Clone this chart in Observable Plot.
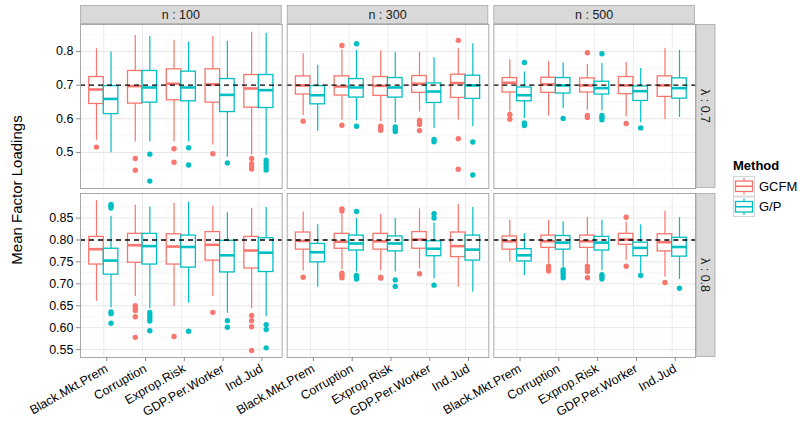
<!DOCTYPE html>
<html><head><meta charset="utf-8">
<script src="https://cdn.jsdelivr.net/npm/d3@7"></script>
<script src="https://cdn.jsdelivr.net/npm/@observablehq/plot@0.6"></script>
<style>
body{margin:0;background:#fff;font-family:"Liberation Sans",Arial,Helvetica,sans-serif;}
#wrap{position:relative;width:800px;height:427px;overflow:hidden;background:#fff;}
#wrap > svg{position:absolute;left:0;}
</style></head>
<body><div id="wrap"></div>
<script>
// ---------- data ----------
const variables = ["Black.Mkt.Prem","Corruption","Exprop.Risk","GDP.Per.Worker","Ind.Jud"];
const methods = ["GCFM","G/P"];
const methodColors = ["#F8766D","#00BFC4"];
const sampleSizes = [100,300,500];
const lambdas = [0.7,0.8];
const yTicksTop = [0.5,0.6,0.7,0.8];
const yMinorTop = [0.45,0.55,0.65,0.75,0.85];
const yTicksBottom = [0.55,0.60,0.65,0.70,0.75,0.80,0.85];
const yMinorBottom = [0.575,0.625,0.675,0.725,0.775,0.825,0.875];

// order: lambda (0.7, 0.8) > n (100, 300, 500) > variable > method (GCFM, G/P)
const whiskerLow = [
  .536,.499, .531,.531, .531,.531, .522,.486, .492,.492,
  .610,.563, .596,.594, .591,.588, .620,.571, .596,.576,
  .620,.601, .608,.630, .625,.623, .605,.588, .598,.604,
  .660,.645, .671,.643, .648,.656, .671,.633, .643,.625,
  .729,.692, .732,.727, .730,.727, .734,.711, .692,.681,
  .750,.719, .746,.738, .746,.730, .753,.724, .715,.710
];
const q1 = [
  .644,.614, .645,.648, .655,.652, .648,.620, .633,.632,
  .672,.643, .669,.663, .668,.663, .677,.647, .662,.659,
  .678,.652, .677,.675, .678,.672, .673,.653, .665,.660,
  .744,.721, .748,.744, .744,.737, .753,.726, .735,.727,
  .778,.749, .780,.776, .778,.774, .780,.763, .761,.753,
  .778,.751, .782,.778, .782,.776, .789,.763, .774,.762
];
const median = [
  .687,.659, .697,.693, .704,.693, .702,.671, .690,.685,
  .699,.670, .696,.693, .698,.693, .704,.681, .706,.699,
  .707,.670, .702,.699, .699,.691, .699,.682, .699,.691,
  .779,.753, .788,.786, .785,.784, .789,.765, .776,.771,
  .798,.772, .796,.792, .797,.792, .801,.780, .786,.778,
  .797,.765, .797,.794, .797,.794, .801,.782, .795,.784
];
const q3 = [
  .724,.697, .742,.742, .747,.740, .747,.718, .730,.730,
  .726,.697, .726,.718, .724,.721, .727,.705, .731,.728,
  .721,.693, .722,.721, .720,.710, .724,.696, .726,.720,
  .807,.780, .814,.814, .813,.810, .818,.798, .807,.804,
  .817,.791, .814,.810, .814,.808, .818,.797, .817,.810,
  .808,.779, .810,.809, .810,.807, .814,.794, .813,.805
];
const whiskerHigh = [
  .808,.798, .847,.844, .833,.828, .844,.830, .857,.854,
  .793,.759, .805,.803, .801,.796, .798,.781, .808,.823,
  .775,.739, .770,.766, .761,.764, .768,.749, .808,.803,
  .890,.854, .879,.875, .884,.886, .877,.862, .872,.874,
  .864,.835, .858,.849, .858,.849, .871,.839, .881,.874,
  .845,.814, .845,.841, .851,.845, .841,.835, .866,.851
];
const outliers = [
  [.516],[], [.482,.447],[.495,.415], [.511,.471],[.514,.463], [.496],[.469], [.482,.467,.457,.451],[.477,.467,.457,.448],
  [.593],[], [.818,.581],[.823,.578], [.578,.572,.566],[.576,.569,.562], [.596,.589,.583,.565],[.539,.532], [.833,.541,.450],[.531,.433],
  [.613,.599],[.767,.588,.580], [],[.601], [.796,.610,.604],[.793,.610,.604,.597], [.586],[.573], [],[],
  [],[.881,.877,.873,.636,.632,.610], [.650,.644,.639,.625,.578],[.635,.628,.622,.615,.593], [.580],[.592], [.635],[.616,.601], [.628,.616,.602,.548],[.607,.596,.554],
  [.715],[], [.871,.866,.724,.719,.714],[.865,.719,.716,.711], [.715,.713],[.709,.694], [.723],[.860,.850,.697], [],[],
  [],[], [.740,.734,.729],[.732,.727,.721,.714], [.740,.734,.728,.714],[.721,.716,.711], [.852,.740],[.719], [.703],[.690]
];

// ---------- table built from the arrays ----------
const rows = [];
{
  let k = 0;
  for (const lambda of lambdas) for (const n of sampleSizes) for (const variable of variables) for (const method of methods) {
    rows.push({lambda, n, variable, method, lo: whiskerLow[k], q1: q1[k], med: median[k], q3: q3[k], hi: whiskerHigh[k], out: outliers[k]});
    k++;
  }
}

// ---------- layout ----------
const W = 800, ML = 80, MR = 105, GAP = 5;
const FXPAD = 3 * GAP / (800 - ML - MR + GAP);
const fxBand = d3.scaleBand().domain(sampleSizes).range([ML, W - MR]).paddingInner(FXPAD).paddingOuter(0);
const unit = fxBand.bandwidth() / 5.2;
const FONT = "'Liberation Sans', Arial, Helvetica, sans-serif";
const wrap = document.getElementById("wrap");

function makeRow(lambda, {top, height, marginTop, marginBottom, yDomain, ticks, minor, fmt, xAxis}) {
  const data = rows.filter(d => d.lambda === lambda);
  const marks = [
    Plot.gridY(minor, {stroke: "#f3f3f3", strokeOpacity: 1, strokeWidth: 0.7}),
    Plot.gridY(ticks, {stroke: "#e6e6e6", strokeOpacity: 1, strokeWidth: 1}),
    Plot.gridX(variables, {stroke: "#ececec", strokeOpacity: 1, strokeWidth: 1}),
  ];
  methods.forEach((m, i) => {
    const sub = data.filter(d => d.method === m);
    const outs = sub.flatMap(d => d.out.map(v => ({n: d.n, variable: d.variable, value: v})));
    const off = (i === 0 ? -1 : 1) * unit * 0.1875;
    const inL = i === 0 ? unit * 0.125 : unit * 0.5;
    const inR = i === 0 ? unit * 0.5 : unit * 0.125;
    const c = methodColors[i];
    marks.push(
      Plot.ruleX(sub, {fx: "n", x: "variable", y1: "lo", y2: "hi", dx: off, stroke: c, strokeWidth: 1.2}),
      Plot.barY(sub, {fx: "n", x: "variable", y1: "q1", y2: "q3", insetLeft: inL, insetRight: inR, fill: "white", stroke: c, strokeWidth: 1.3}),
      Plot.tickY(sub, {fx: "n", x: "variable", y: "med", insetLeft: inL, insetRight: inR, stroke: c, strokeWidth: 2.6}),
      Plot.dot(outs, {fx: "n", x: "variable", y: "value", dx: off, r: 2.7, fill: c, stroke: "none"})
    );
  });
  marks.push(
    Plot.ruleY([lambda], {stroke: "black", strokeDasharray: "5,4", strokeWidth: 1.3}),
    Plot.frame({stroke: "#a8a8a8", strokeWidth: 1}),
    Plot.axisY(ticks, {tickFormat: d3.format(fmt), tickSize: 4, tickPadding: 3, fontSize: 12.5, stroke: "#8c8c8c", fill: "black", label: null})
  );
  if (xAxis) marks.push(Plot.axisX({tickRotate: -30, tickSize: 4, tickPadding: 6, fontSize: 12.5, dx: 3, stroke: "#8c8c8c", fill: "black", label: null}));
  const chart = Plot.plot({
    width: W, height, marginTop, marginBottom, marginLeft: ML, marginRight: MR,
    style: {fontFamily: FONT, fontSize: "12.5px", background: "white", overflow: "visible"},
    fx: {domain: sampleSizes, paddingInner: FXPAD, paddingOuter: 0, round: false, axis: null, label: null},
    x: {domain: variables, paddingInner: 0, paddingOuter: 0.1, round: false, axis: xAxis ? undefined : null, label: null},
    y: {domain: yDomain, label: null},
    marks
  });
  chart.style.top = top + "px";
  wrap.appendChild(chart);

  // facet strips (decoration)
  const svg = d3.select(chart);
  const g = svg.append("g").attr("font-family", FONT).attr("font-size", "12.5px");
  const panelBottom = height - marginBottom;
  if (!xAxis) {
    for (const n of sampleSizes) {
      g.append("rect").attr("x", fxBand(n) + 0.5).attr("y", 5.5).attr("width", fxBand.bandwidth() - 1).attr("height", marginTop - 6)
        .attr("fill", "#d9d9d9").attr("stroke", "#a8a8a8").attr("stroke-width", 0.8);
      g.append("text").attr("x", fxBand(n) + fxBand.bandwidth() / 2).attr("y", (5 + marginTop) / 2).attr("dy", "0.35em")
        .attr("text-anchor", "middle").attr("fill", "#1a1a1a").text(`n : ${n}`);
    }
  }
  const sx = W - MR + 1;
  g.append("rect").attr("x", sx).attr("y", marginTop + 0.5).attr("width", 19).attr("height", panelBottom - marginTop - 1)
    .attr("fill", "#d9d9d9").attr("stroke", "#a8a8a8").attr("stroke-width", 0.8);
  const cy = (marginTop + panelBottom) / 2;
  g.append("text").attr("transform", `translate(${sx + 9.5},${cy}) rotate(90)`).attr("dy", "0.35em")
    .attr("text-anchor", "middle").attr("fill", "#1a1a1a").text(`λ : ${lambda}`);
  return chart;
}

makeRow(0.7, {top: 0, height: 190, marginTop: 24, marginBottom: 2, yDomain: [0.393, 0.880], ticks: yTicksTop, minor: yMinorTop, fmt: ".1f", xAxis: false});
makeRow(0.8, {top: 190, height: 237, marginTop: 3, marginBottom: 70, yDomain: [0.532, 0.906], ticks: yTicksBottom, minor: yMinorBottom, fmt: ".2f", xAxis: true});

// ---------- overlay: y title and legend ----------
const ov = d3.select(wrap).append("svg").attr("width", W).attr("height", 427).style("top", "0px")
  .attr("font-family", FONT).style("pointer-events", "none");
ov.append("text").attr("transform", "translate(21.5,190) rotate(-90)").attr("text-anchor", "middle")
  .attr("font-size", "15px").attr("fill", "black").text("Mean Factor Loadings");
ov.append("text").attr("x", 733).attr("y", 170).attr("font-size", "13px").attr("font-weight", "bold").attr("fill", "black").text("Method");
methods.forEach((m, i) => {
  const kx = 733, ky = 176 + i * 20.5, kw = 22, kh = 20.5;
  const c = methodColors[i];
  const k = ov.append("g");
  k.append("rect").attr("x", kx + 0.5).attr("y", ky + 0.5).attr("width", kw - 1).attr("height", kh - 1)
    .attr("fill", "white").attr("stroke", "#d4d4d4").attr("stroke-width", 1);
  k.append("line").attr("x1", kx + kw / 2).attr("x2", kx + kw / 2).attr("y1", ky + 2).attr("y2", ky + kh - 2).attr("stroke", c).attr("stroke-width", 1.2);
  k.append("rect").attr("x", kx + 2.5).attr("y", ky + 5).attr("width", kw - 5).attr("height", kh - 10)
    .attr("fill", "white").attr("stroke", c).attr("stroke-width", 1.3);
  k.append("line").attr("x1", kx + 2.5).attr("x2", kx + kw - 2.5).attr("y1", ky + kh / 2).attr("y2", ky + kh / 2).attr("stroke", c).attr("stroke-width", 1.6);
  k.append("text").attr("x", kx + kw + 4).attr("y", ky + kh / 2).attr("dy", "0.35em").attr("font-size", "13px").attr("fill", "black").text(m);
});
</script>
</body></html>
